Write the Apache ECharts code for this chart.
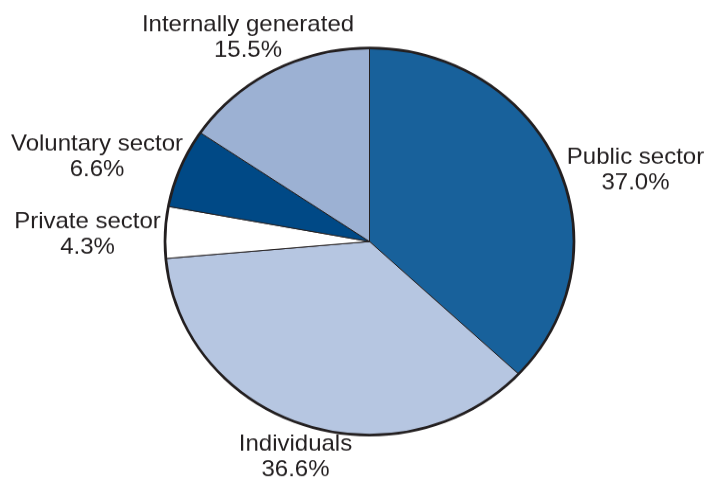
<!DOCTYPE html>
<html>
<head>
<meta charset="utf-8">
<script src="https://cdn.jsdelivr.net/npm/echarts@6/dist/echarts.min.js"></script>
<style>
html,body{margin:0;padding:0;background:#fff;overflow:hidden;width:704px;height:480px;}
#wrap{width:704px;height:480px;overflow:hidden;}
#chart{width:704px;height:507px;transform:scaleY(0.9467);transform-origin:0 0;}
</style>
</head>
<body>
<div id="wrap"><div id="chart"></div></div>
<script>
// Data
const categories = ['Public sector', 'Individuals', 'Private sector', 'Voluntary sector', 'Internally generated'];
const shares = [37.0, 36.6, 4.3, 6.6, 15.5];

// Styles (label centres in unscaled chart pixels)
const sliceColors = ['#18619b', '#b6c6e1', '#ffffff', '#004986', '#9cb1d3'];
const labelCenters = [[635.5, 180], [295.5, 483], [87.5, 248], [97, 166], [248, 40]];

const chart = echarts.init(document.getElementById('chart'), null, {renderer: 'canvas'});
const total = shares.reduce((a, b) => a + b, 0);

chart.setOption({
  animation: false,
  backgroundColor: '#ffffff',
  series: [
    {
      type: 'pie',
      center: [369.5, 255.1],
      radius: [0, 204.5],
      startAngle: 90,
      clockwise: true,
      avoidLabelOverlap: false,
      data: categories.map((c, i) => ({
        name: c, value: shares[i],
        itemStyle: {color: sliceColors[i]}
      })),
      itemStyle: {borderColor: '#231f20', borderWidth: 1},
      label: {
        show: true,
        position: 'outside',
        formatter: p => p.name + '\n' + p.value.toFixed(1) + '%',
        fontFamily: 'Liberation Sans, Arial, sans-serif',
        fontSize: 24,
        lineHeight: 27,
        color: '#231f20',
        align: 'center'
      },
      labelLine: {show: false},
      labelLayout: function (params) {
        const c = labelCenters[params.dataIndex];
        return {x: c[0], y: c[1], align: 'center', verticalAlign: 'middle'};
      },
      emphasis: {disabled: true}
    },
    {
      type: 'pie',
      center: [369.5, 255.1],
      radius: [0, 204.5],
      silent: true,
      data: [{value: total, itemStyle: {color: 'rgba(0,0,0,0)'}}],
      itemStyle: {borderColor: '#231f20', borderWidth: 2.7},
      label: {show: false},
      labelLine: {show: false},
      emphasis: {disabled: true}
    }
  ]
});
</script>
</body>
</html>
